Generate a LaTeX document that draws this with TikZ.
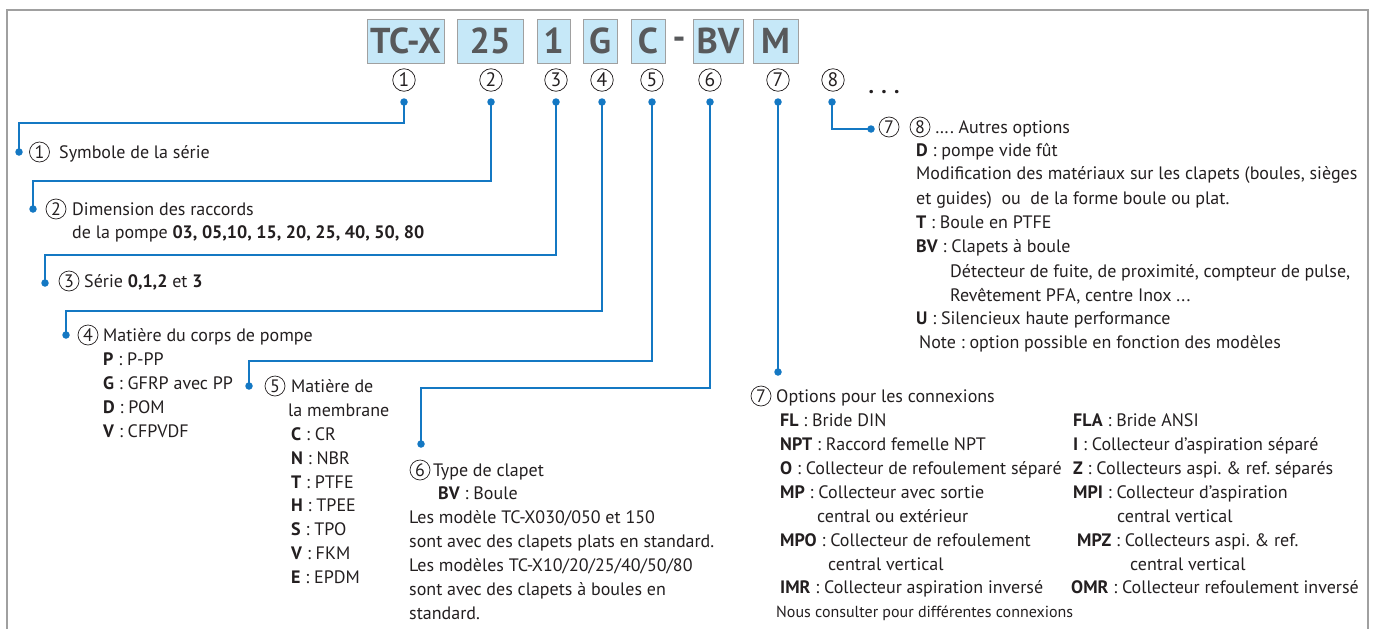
\documentclass[tikz,border=0pt]{standalone}
\usepackage{fontspec}
\setmainfont{PT Sans}
\definecolor{cblue}{RGB}{20,120,195}
\definecolor{boxblue}{RGB}{198,232,248}
\definecolor{codegray}{RGB}{88,89,91}
\definecolor{framegray}{RGB}{160,160,160}
\definecolor{txtc}{RGB}{35,31,32}
\frenchspacing
\begin{document}
\begin{tikzpicture}[x=1pt,y=-1pt,
 codebox/.style={draw=framegray, line width=0.8, fill=boxblue, text=codegray, font=\fontsize{36}{36}\selectfont\bfseries, minimum height=44, inner sep=0},
 topnum/.style={circle, draw=txtc, line width=0.75, minimum size=22.5, inner sep=0, text=txtc, font=\fontsize{19.5}{19.5}\selectfont},
 cn/.style={circle, draw=txtc, line width=0.7, minimum size=20, inner sep=0, text=txtc, font=\fontsize{18}{18}\selectfont},
 dotc/.style={circle, fill=cblue, inner sep=0, minimum size=7.5},
 conn/.style={draw=cblue, line width=1.3},
 txt/.style={anchor=base west, inner sep=0, text=txtc, font=\fontsize{18}{18}\selectfont},
 small/.style={txt, font=\fontsize{16}{16}\selectfont}
]
\useasboundingbox (0,0) rectangle (1375,629);
% frame
\draw[framegray, line width=2.5] (7,629) -- (7,10) -- (1368,10) -- (1368,629);

% code boxes
\node[codebox, minimum width=77] (b1) at (405.5,41) {TC-X};
\node[codebox, minimum width=66] (b2) at (490,41) {25};
\node[codebox, minimum width=33] (b3) at (553.5,41) {1};
\node[codebox, minimum width=34] (b4) at (600,41) {G};
\node[codebox, minimum width=34] (b5) at (648,41) {C};
\node[text=codegray, font=\fontsize{36}{36}\selectfont\bfseries, inner sep=0] (dash) at (679,43) {-};
\node[codebox, minimum width=50] (b6) at (718,41) {BV};
\node[codebox, minimum width=45] (b7) at (775.5,41) {M};

% top numbers
\node[topnum] (n1) at (404,80) {1};
\node[topnum] (n2) at (491,80) {2};
\node[topnum] (n3) at (556,80) {3};
\node[topnum] (n4) at (602,80) {4};
\node[topnum] (n5) at (652,80) {5};
\node[topnum] (n6) at (710,80) {6};
\node[topnum] (n7) at (778,80) {7};
\node[topnum] (n8) at (833,80) {8};
\node[text=txtc, font=\fontsize{22}{22}\selectfont\bfseries, inner sep=0] (ell) at (884,92) {.\,\,.\,\,.};

% dots
\node[dotc] (t1) at (404,102) {};
\node[dotc] (t2) at (491,102) {};
\node[dotc] (t3) at (556,102) {};
\node[dotc] (t4) at (602,102) {};
\node[dotc] (t5) at (652,102) {};
\node[dotc] (t6) at (710,102) {};
\node[dotc] (t7) at (778,102) {};
\node[dotc] (t8) at (832,102) {};
\node[dotc] (e1) at (19,152) {};
\node[dotc] (e2) at (33,209) {};
\node[dotc] (e3) at (45,283) {};
\node[dotc] (e4) at (66,335) {};
\node[dotc] (e5) at (249,386) {};
\node[dotc] (e6) at (421,444) {};
\node[dotc] (e7) at (778,372) {};
\node[dotc] (e8) at (871,129) {};

% connectors
\draw[conn] (t1.center) -- ++(0,21) -| (e1.center);
\draw[conn] (t2.center) -- ++(0,79) -| (e2.center);
\draw[conn] (t3.center) -- ++(0,153) -| (e3.center);
\draw[conn] (t4.center) -- ++(0,209) -| (e4.center);
\draw[conn] (t5.center) -- ++(0,259) -| (e5.center);
\draw[conn] (t6.center) -- ++(0,286) -| (e6.center);
\draw[conn] (t7.center) -- (e7.center);
\draw[conn] (t8.center) |- (e8.center);

% 1
\node[cn] (c1) at (39.5,152) {1};
\node[txt] (l1) at (59,158) {Symbole de la série};
% 2
\node[cn] (c2) at (56,209) {2};
\node[txt] (l2a) at (72,215) {Dimension des raccords};
\node[txt] (l2b) at (72,238) {de la pompe \textbf{03, 05,10, 15, 20, 25, 40, 50, 80}};
% 3
\node[cn] (c3) at (69,281) {3};
\node[txt] (l3) at (84,287) {Série \textbf{0,1,2} et \textbf{3}};
% 4
\node[cn] (c4) at (88,335) {4};
\node[txt] (l4) at (103,341) {Matière du corps de pompe};
\node[txt] (l4p) at (103,365) {\textbf{P} : P-PP};
\node[txt] (l4g) at (103,389) {\textbf{G} : GFRP avec PP};
\node[txt] (l4d) at (103,413) {\textbf{D} : POM};
\node[txt] (l4v) at (103,437) {\textbf{V} : CFPVDF};
% 5
\node[cn] (c5) at (275,386) {5};
\node[txt] (l5a) at (291,392) {Matière de};
\node[txt] (l5b) at (288,416) {la membrane};
\node[txt] (l5c) at (291,440) {\textbf{C} : CR};
\node[txt] (l5n) at (291,464) {\textbf{N} : NBR};
\node[txt] (l5t) at (291,488) {\textbf{T} : PTFE};
\node[txt] (l5h) at (291,511) {\textbf{H} : TPEE};
\node[txt] (l5s) at (291,535) {\textbf{S} : TPO};
\node[txt] (l5v) at (291,559) {\textbf{V} : FKM};
\node[txt] (l5e) at (291,583) {\textbf{E} : EPDM};
% 6
\node[cn] (c6) at (420,470) {6};
\node[txt] (l6a) at (433,476) {Type de clapet};
\node[txt] (l6b) at (438,499) {\textbf{BV} : Boule};
\node[txt] (l6c) at (409,523) {Les modèle TC-X030/050 et 150};
\node[txt] (l6d) at (409,547) {sont avec des clapets plats en standard.};
\node[txt] (l6e) at (409,571) {Les modèles TC-X10/20/25/40/50/80};
\node[txt] (l6f) at (409,595) {sont avec des clapets à boules en};
\node[txt] (l6g) at (409,619) {standard.};
% 7
\node[cn] (c7) at (761,396) {7};
\node[txt] (l7) at (776,402) {Options pour les connexions};
\node[txt] (l7a) at (780,426) {\textbf{FL} : Bride DIN};
\node[txt] (l7b) at (780,450) {\textbf{NPT} : Raccord femelle NPT};
\node[txt] (l7c) at (780,474) {\textbf{O} : Collecteur de refoulement séparé};
\node[txt] (l7d) at (780,498) {\textbf{MP} : Collecteur avec sortie};
\node[txt] (l7e) at (817,522) {central ou extérieur};
\node[txt] (l7f) at (780,546) {\textbf{MPO} : Collecteur de refoulement};
\node[txt] (l7g) at (828,570) {central vertical};
\node[txt] (l7h) at (780,593) {\textbf{IMR} : Collecteur aspiration inversé};
\node[small] (l7i) at (776,617) {Nous consulter pour différentes connexions};
\node[txt] (r7a) at (1073,426) {\textbf{FLA} : Bride ANSI};
\node[txt] (r7b) at (1073,450) {\textbf{I} : Collecteur d’aspiration séparé};
\node[txt] (r7c) at (1073,474) {\textbf{Z} : Collecteurs aspi. \& ref. séparés};
\node[txt] (r7d) at (1073,498) {\textbf{MPI} : Collecteur d’aspiration};
\node[txt] (r7e) at (1117,522) {central vertical};
\node[txt] (r7f) at (1077,546) {\textbf{MPZ} : Collecteurs aspi. \& ref.};
\node[txt] (r7g) at (1130,570) {central vertical};
\node[txt] (r7h) at (1071,593) {\textbf{OMR} : Collecteur refoulement inversé};
% 8
\node[cn] (c87) at (889,127) {7};
\node[cn] (c88) at (920,127) {8};
\node[txt] (l8) at (935,133) {…. Autres options};
\node[txt] (l8a) at (916,156) {\textbf{D} : pompe vide fût};
\node[txt] (l8b) at (916,179) {Modification des matériaux sur les clapets (boules, sièges};
\node[txt] (l8c) at (916,204) {et guides)\ \ ou\ \ de la forme boule ou plat.};
\node[txt] (l8d) at (916,228) {\textbf{T} : Boule en PTFE};
\node[txt] (l8e) at (916,252) {\textbf{BV} : Clapets à boule};
\node[txt] (l8f) at (950,277) {Détecteur de fuite, de proximité, compteur de pulse,};
\node[txt] (l8g) at (950,301) {Revêtement PFA, centre Inox ...};
\node[txt] (l8h) at (916,324) {\textbf{U} : Silencieux haute performance};
\node[txt] (l8i) at (919,348) {Note : option possible en fonction des modèles};
\end{tikzpicture}
\end{document}
